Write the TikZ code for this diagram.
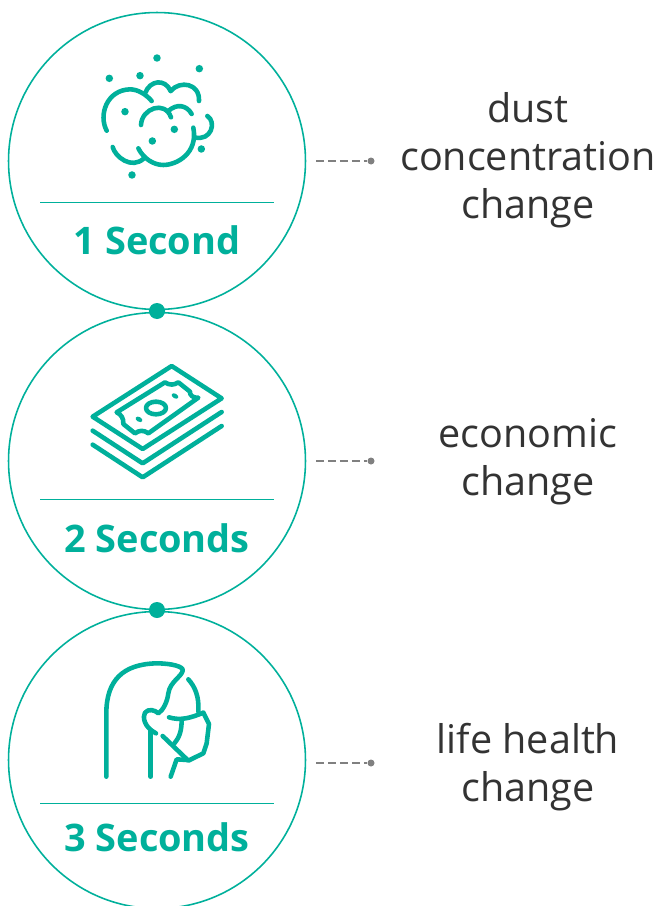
\documentclass[tikz,border=0pt]{standalone}
\usepackage{fontspec}
\setmainfont{Open Sans}
\definecolor{mint}{HTML}{00B09B}
\definecolor{ink}{HTML}{333333}
\definecolor{lead}{HTML}{808080}
\tikzset{
	ring/.style={circle, draw=mint, line width=0.9pt, minimum size=5.94cm, inner sep=0pt},
	link/.style={circle, fill=mint, minimum size=0.32cm, inner sep=0pt},
	tip/.style={circle, fill=lead, minimum size=0.14cm, inner sep=0pt},
	lead/.style={draw=lead, line width=0.6pt, dash pattern=on 0.16cm off 0.08cm},
	rule/.style={draw=mint, line width=0.5pt},
	stamp/.style={text=mint, font=\fontsize{21.6}{25}\selectfont\bfseries},
	effect/.style={text=ink, align=center, font=\fontsize{22.5}{27.2}\selectfont},
	icon/.style={draw=mint, line width=2.6pt, line cap=round, line join=round},
	speck/.style={fill=mint},
	zoomed/.style={x=0.02cm/3, y=-0.02cm/3},
}
\begin{document}
\begin{tikzpicture}[x=0.02cm, y=-0.02cm]
	\useasboundingbox (0,0) rectangle (659,906);

	% Circles
	\node [ring] (ringA) at (157,161) {};
	\node [ring] (ringB) at (157,461) {};
	\node [ring] (ringC) at (157,760) {};
	\node [link] (linkAB) at (157,311) {};
	\node [link] (linkBC) at (157,610) {};

	% Rules
	\coordinate (ruleAl) at (40,202);
	\coordinate (ruleAr) at (274,202);
	\coordinate (ruleBl) at (40,499);
	\coordinate (ruleBr) at (274,499);
	\coordinate (ruleCl) at (40,803);
	\coordinate (ruleCr) at (274,803);
	\draw [rule] (ruleAl) -- (ruleAr);
	\draw [rule] (ruleBl) -- (ruleBr);
	\draw [rule] (ruleCl) -- (ruleCr);

	% Times
	\node [stamp] (timeA) at (157,240) {1 Second};
	\node [stamp] (timeB) at (157,538) {2 Seconds};
	\node [stamp] (timeC) at (157,837) {3 Seconds};

	% Effects
	\node [effect] (effectA) at (528,160) {dust\\concentration\\change};
	\node [effect] (effectB) at (528,462) {economic\\change};
	\node [effect] (effectC) at (528,767) {life health\\change};

	% Leaders
	\coordinate (leadA) at (316,161);
	\coordinate (leadB) at (316,461);
	\coordinate (leadC) at (316,763);
	\node [tip] (tipA) at (371,161) {};
	\node [tip] (tipB) at (371,461) {};
	\node [tip] (tipC) at (371,763) {};
	\draw [lead] (leadA) -- (tipA);
	\draw [lead] (leadB) -- (tipB);
	\draw [lead] (leadC) -- (tipC);

	% Dust
	\begin{scope}[shift={(70,40)}, zoomed]
		\draw [icon] (110,272) .. controls (85,225) and (110,150) .. (180,148) .. controls (205,148) and (230,165) .. (245,183);
		\draw [icon] (225,160) .. controls (240,120) and (285,115) .. (302,153);
		\draw [icon] (302,153) .. controls (330,120) and (390,130) .. (387,183);
		\draw [icon] (213,255) .. controls (215,205) and (285,180) .. (303,232);
		\draw [icon] (295,213) .. controls (320,190) and (350,195) .. (365,222);
		\draw [icon] (412,228) .. controls (440,245) and (425,305) .. (373,292);
		\draw [icon] (370,263) .. controls (385,340) and (320,375) .. (280,375) .. controls (250,375) and (220,355) .. (205,325);
		\draw [icon] (128,321) .. controls (135,350) and (185,390) .. (222,355);
		\foreach \px/\py in {261/54, 388/86, 118/115, 210/107, 165/215, 313/268, 247/303, 394/327, 186/405}
			\fill [speck] (\px,\py) circle (0.075cm);
	\end{scope}

	% Money
	\begin{scope}[shift={(70,350)}, zoomed]
		\draw [icon] (305,48) -- (455,145) -- (218,297) -- (68,200) -- cycle;
		\draw [icon] (68,242) -- (218,340) -- (455,186);
		\draw [icon] (68,284) -- (218,382) -- (455,228);
		\draw [icon] (140,187) -- (285,97) .. controls (298,106) and (312,106) .. (325,97)
			-- (360,125) .. controls (358,135) and (370,145) .. (385,143)
			-- (235,250) .. controls (222,240) and (208,240) .. (195,250)
			-- (160,222) .. controls (162,205) and (152,192) .. (140,187) -- cycle;
		\draw [icon] (258,174) ellipse [x radius=30, y radius=19];
		\fill [speck, rotate around={-30:(315,138)}] (315,138) ellipse [x radius=11, y radius=7];
		\fill [speck, rotate around={-30:(207,208)}] (207,208) ellipse [x radius=11, y radius=7];
	\end{scope}

	% Mask
	\begin{scope}[shift={(80,650)}, zoomed]
		\draw [icon] (79,380) -- (79,190) .. controls (79,90) and (130,42) .. (230,40) .. controls (275,40) and (312,50) .. (308,62) .. controls (305,80) and (270,95) .. (265,130) .. controls (262,155) and (250,180) .. (235,190) .. controls (225,180) and (205,175) .. (195,188) .. controls (188,200) and (190,230) .. (228,250);
		\draw [icon] (212,240) -- (212,380);
		\draw [icon] (325,88) .. controls (345,110) and (358,140) .. (355,185);
		\draw [icon] (267,202) .. controls (300,212) and (330,205) .. (370,188);
		\draw [icon] (370,188) -- (387,222) -- (380,280) -- (370,310) -- (325,332) -- (248,258);
		\draw [icon] (305,208) .. controls (305,240) and (300,260) .. (283,280);
		\draw [icon] (322,330) -- (290,328) -- (272,380);
	\end{scope}
\end{tikzpicture}
\end{document}
